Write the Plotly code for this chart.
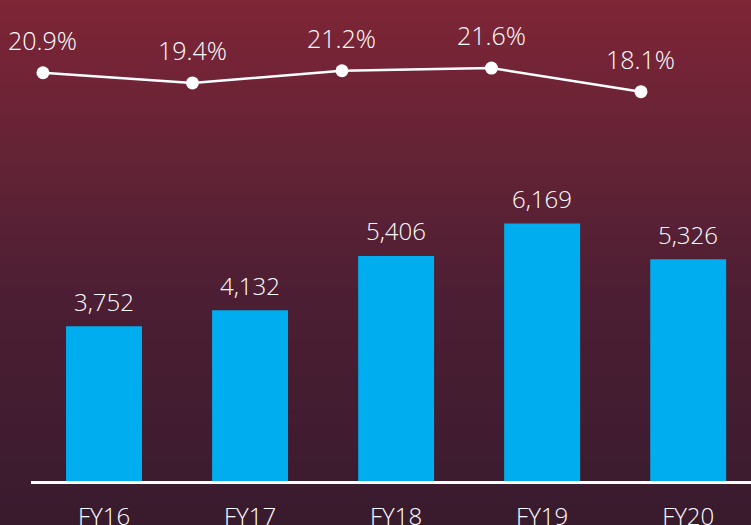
import plotly.graph_objects as go

categories = ["FY16", "FY17", "FY18", "FY19", "FY20"]
bar_values = [3752, 4132, 5406, 6169, 5326]
pct_values = [20.9, 19.4, 21.2, 21.6, 18.1]
bar_labels = ["3,752", "4,132", "5,406", "6,169", "5,326"]
pct_labels = ["20.9%", "19.4%", "21.2%", "21.6%", "18.1%"]

FONT = "Open Sans"
FW = 300
W, H = 751, 525
MT, MB, ML, MR = 0, 44, 31, 0
PH = H - MT - MB

# gradient background stops (pixel y from top, rgb)
stops = [(0, (126, 37, 54)), (150, (101, 35, 54)), (300, (76, 30, 51)), (525, (57, 27, 46))]

def col_at(y):
    for (y0, c0), (y1, c1) in zip(stops[:-1], stops[1:]):
        if y0 <= y <= y1:
            t = (y - y0) / (y1 - y0)
            return "rgb(%d,%d,%d)" % tuple(round(a + (b - a) * t) for a, b in zip(c0, c1))
    return "rgb(%d,%d,%d)" % stops[-1][1]

shapes = []
n = 105
step = H / n
for i in range(n):
    ytop = i * step
    ybot = ytop + step + 1.5
    shapes.append(dict(
        type="rect", xref="paper", yref="paper", layer="below",
        x0=-0.2, x1=1.2,
        y0=(PH - (ybot - MT)) / PH, y1=(PH - (ytop - MT)) / PH,
        fillcolor=col_at(ytop + step / 2), line=dict(width=0),
    ))

fig = go.Figure()
fig.add_trace(go.Bar(
    x=categories, y=bar_values,
    marker=dict(color="#00AEEF", line=dict(width=0)),
    xaxis="x", yaxis="y", hoverinfo="skip",
))
fig.add_trace(go.Scatter(
    x=categories, y=pct_values, mode="lines+markers",
    line=dict(color="white", width=2.5),
    marker=dict(color="white", size=13),
    xaxis="x2", yaxis="y2", cliponaxis=False, hoverinfo="skip",
))

annotations = []
for c, v, t in zip(categories, bar_values, bar_labels):
    annotations.append(dict(
        x=c, y=v, xref="x", yref="y", text=t, showarrow=False,
        yanchor="middle", yshift=25,
        font=dict(family=FONT, size=24, color="white", weight=FW),
    ))
for c, v, t in zip(categories, pct_values, pct_labels):
    annotations.append(dict(
        x=c, y=v, xref="x2", yref="y2", text=t, showarrow=False,
        yanchor="middle", yshift=33,
        font=dict(family=FONT, size=25, color="white", weight=FW),
    ))

fig.update_layout(
    width=W, height=H,
    margin=dict(t=MT, b=MB, l=ML, r=MR, pad=0, autoexpand=False),
    paper_bgcolor="rgb(57,27,46)", plot_bgcolor="rgba(0,0,0,0)",
    showlegend=False, bargap=0.48,
    shapes=shapes, annotations=annotations,
    xaxis=dict(range=[-0.5, 4.43], showgrid=False, zeroline=False, automargin=False,
               showline=True, linecolor="white", linewidth=2.5,
               ticks="", tickfont=dict(family=FONT, size=24, color="white", weight=FW),
               ticklabelstandoff=12),
    yaxis=dict(range=[122, 11413], visible=False, showgrid=False, zeroline=False),
    xaxis2=dict(overlaying="x", range=[-0.08, 4.736], visible=False,
                categoryorder="array", categoryarray=categories),
    yaxis2=dict(overlaying="y", range=[-39.58, 31.68], visible=False),
    font=dict(family=FONT, color="white"),
)

fig.write_html("out.html", config={"displayModeBar": False},
               post_script="document.body.style.margin='0';document.body.style.overflow='hidden';")
